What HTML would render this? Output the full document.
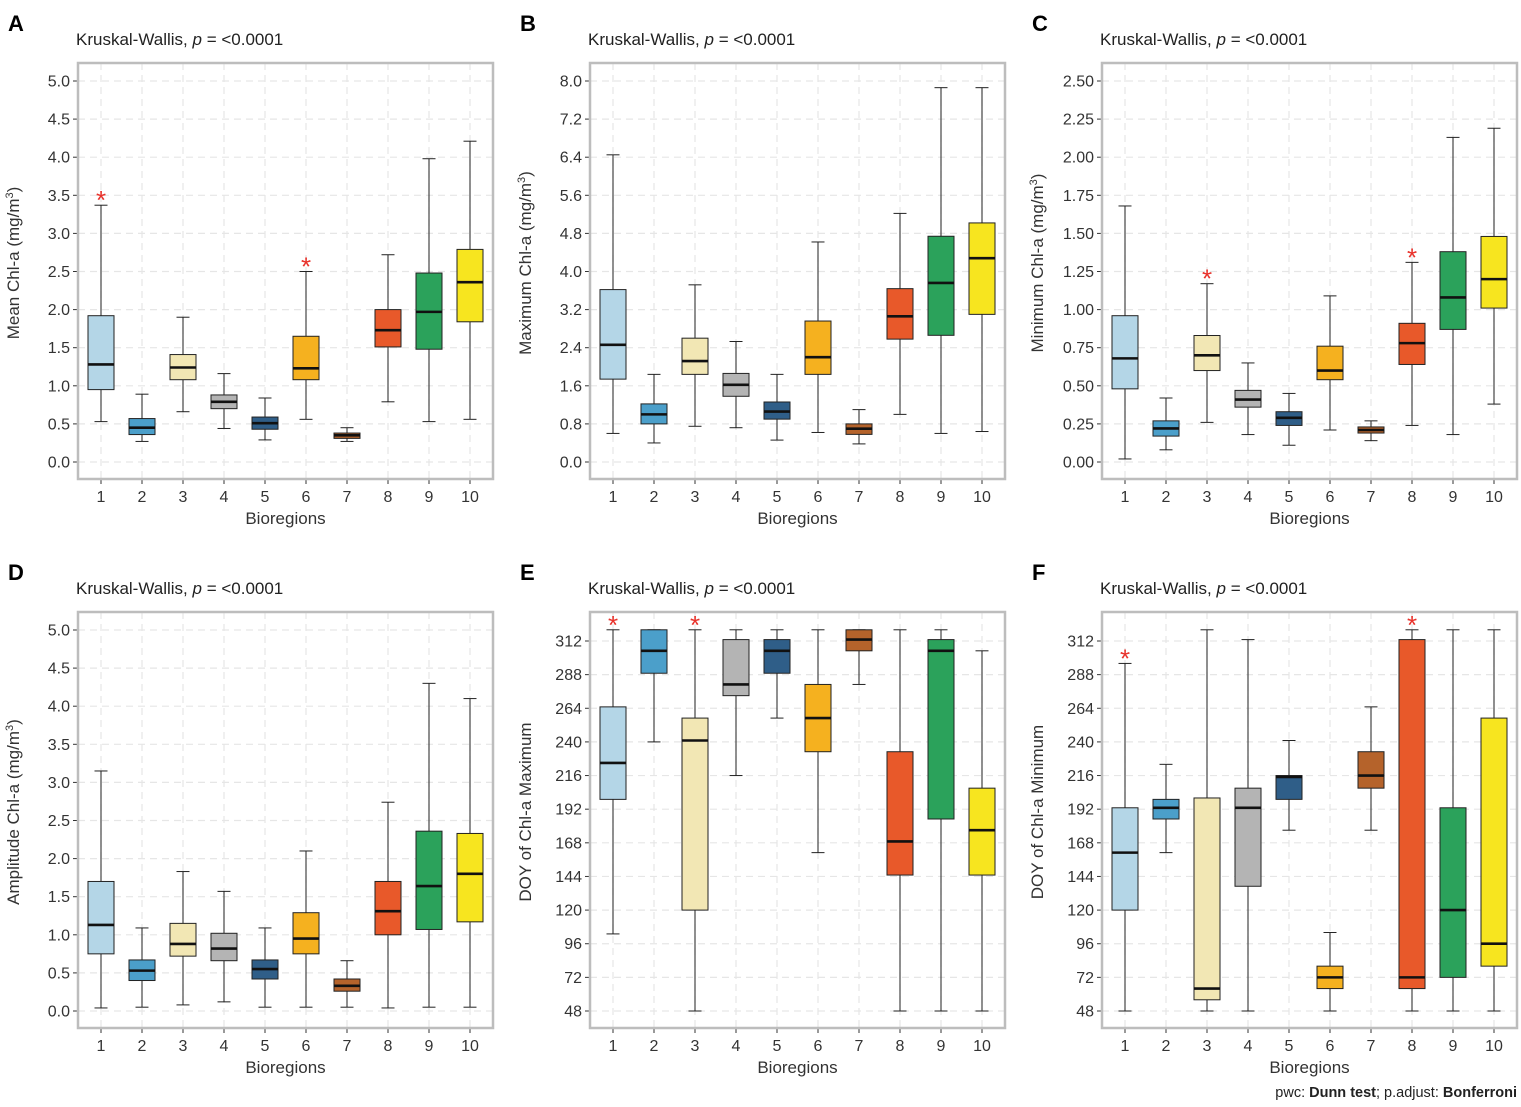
<!DOCTYPE html>
<html><head><meta charset="utf-8"><style>
body{margin:0;background:#fff;}
svg text{font-family:"Liberation Sans",Arial,sans-serif;}
</style></head><body>
<svg id="chart" width="1521" height="1102" xmlns="http://www.w3.org/2000/svg"></svg>
<script>
const categories = ["1","2","3","4","5","6","7","8","9","10"];
const colors = ["#b4d6e7","#4b9fca","#f2e7b4","#b4b4b4","#2f5e88","#f5b11f","#b5632b","#e8592a","#2ba25b","#f7e51f"];
// [whiskerLow, q1, median, q3, whiskerHigh]
const meanChl = [[0.53,0.95,1.28,1.92,3.37],[0.27,0.36,0.45,0.57,0.89],[0.66,1.08,1.24,1.41,1.90],[0.44,0.70,0.79,0.88,1.16],[0.29,0.43,0.51,0.59,0.84],[0.56,1.08,1.23,1.65,2.50],[0.27,0.31,0.35,0.38,0.45],[0.79,1.51,1.73,2.00,2.72],[0.53,1.48,1.97,2.48,3.98],[0.56,1.84,2.36,2.79,4.21]];
const maxChl = [[0.6,1.74,2.46,3.62,6.45],[0.4,0.8,1.0,1.22,1.84],[0.75,1.84,2.12,2.6,3.72],[0.72,1.38,1.62,1.86,2.53],[0.46,0.9,1.06,1.26,1.84],[0.62,1.84,2.2,2.96,4.62],[0.38,0.58,0.7,0.8,1.1],[1.0,2.58,3.06,3.64,5.22],[0.6,2.66,3.76,4.74,7.86],[0.64,3.1,4.28,5.02,7.86]];
const minChl = [[0.02,0.48,0.68,0.96,1.68],[0.08,0.17,0.22,0.27,0.42],[0.26,0.6,0.7,0.83,1.17],[0.18,0.36,0.41,0.47,0.65],[0.11,0.24,0.29,0.33,0.45],[0.21,0.54,0.6,0.76,1.09],[0.14,0.19,0.21,0.23,0.27],[0.24,0.64,0.78,0.91,1.31],[0.18,0.87,1.08,1.38,2.13],[0.38,1.01,1.2,1.48,2.19]];
const ampChl = [[0.04,0.75,1.13,1.70,3.15],[0.05,0.40,0.53,0.67,1.09],[0.08,0.72,0.88,1.15,1.83],[0.12,0.66,0.82,1.02,1.57],[0.05,0.42,0.55,0.67,1.09],[0.05,0.75,0.95,1.29,2.10],[0.05,0.26,0.33,0.42,0.66],[0.04,1.00,1.31,1.70,2.74],[0.05,1.07,1.64,2.36,4.30],[0.05,1.17,1.80,2.33,4.10]];
const doyMax = [[103,199,225,265,320],[240,289,305,320,320],[48,120,241,257,320],[216,273,281,313,320],[257,289,305,313,320],[161,233,257,281,320],[281,305,313,320,320],[48,145,169,233,320],[48,185,305,313,320],[48,145,177,207,305]];
const doyMin = [[48,120,161,193,296],[161,185,193,199,224],[48,56,64,200,320],[48,137,193,207,313],[177,199,215,216,241],[48,64,72,80,104],[177,207,216,233,265],[48,64,72,313,320],[48,72,120,193,320],[48,80,96,257,320]];
const starsA = [1,6], starsB = [], starsC = [3,8], starsD = [], starsE = [1,3], starsF = [1,8];
const ticksChl5 = [0,0.5,1,1.5,2,2.5,3,3.5,4,4.5,5];
const ticksChl8 = [0,0.8,1.6,2.4,3.2,4.0,4.8,5.6,6.4,7.2,8.0];
const ticksChl25 = [0,0.25,0.5,0.75,1,1.25,1.5,1.75,2,2.25,2.5];
const ticksDoy = [48,72,96,120,144,168,192,216,240,264,288,312];

const NS="http://www.w3.org/2000/svg";
const svg=document.getElementById('chart');
function mk(tag,attrs,parent){const e=document.createElementNS(NS,tag);for(const k in attrs)e.setAttribute(k,attrs[k]);(parent||svg).appendChild(e);return e;}

const panels=[
 {id:'a',letter:'A',L:78,T:63,data:meanChl,ticks:ticksChl5,dec:1,v0:0,v1:5,p0:399,p1:18,stars:starsA,yt:'Mean Chl-a (mg/m',sup:true},
 {id:'b',letter:'B',L:590,T:63,data:maxChl,ticks:ticksChl8,dec:1,v0:0,v1:8,p0:399,p1:18,stars:starsB,yt:'Maximum Chl-a (mg/m',sup:true},
 {id:'c',letter:'C',L:1102,T:63,data:minChl,ticks:ticksChl25,dec:2,v0:0,v1:2.5,p0:399,p1:18,stars:starsC,yt:'Minimum Chl-a (mg/m',sup:true},
 {id:'d',letter:'D',L:78,T:612,data:ampChl,ticks:ticksChl5,dec:1,v0:0,v1:5,p0:399,p1:18,stars:starsD,yt:'Amplitude Chl-a (mg/m',sup:true},
 {id:'e',letter:'E',L:590,T:612,data:doyMax,ticks:ticksDoy,dec:0,v0:48,v1:312,p0:399,p1:29,stars:starsE,yt:'DOY of Chl-a Maximum',sup:false},
 {id:'f',letter:'F',L:1102,T:612,data:doyMin,ticks:ticksDoy,dec:0,v0:48,v1:312,p0:399,p1:29,stars:starsF,yt:'DOY of Chl-a Minimum',sup:false}
];
const W=415,H=416;
panels.forEach(p=>{
  const g=mk('g',{});
  
  
  const y=v=>p.T+p.p0+(v-p.v0)*(p.p1-p.p0)/(p.v1-p.v0);
  const x=i=>p.L+23+i*41;
  const lt=mk('text',{x:p.L-70,y:p.T-32,'font-size':22,'font-weight':'bold',fill:'#000'},g);lt.textContent=p.letter;
  
  const tt=mk('text',{x:p.L-2,y:p.T-18,'font-size':17,fill:'#222'},g);
  tt.innerHTML='Kruskal-Wallis, <tspan font-style="italic">p</tspan> = &lt;0.0001';
  
  p.ticks.forEach(t=>{const l=mk('line',{x1:p.L,x2:p.L+W,y1:y(t),y2:y(t),stroke:'#e6e6e6','stroke-width':1.2,'stroke-dasharray':'7,5'},g);
    });
  categories.forEach((c,i)=>{const l=mk('line',{x1:x(i),x2:x(i),y1:p.T,y2:p.T+H,stroke:'#e6e6e6','stroke-width':1.2,'stroke-dasharray':'7,5'},g);
    });
  p.ticks.forEach(t=>{mk('line',{x1:p.L-5,x2:p.L,y1:y(t),y2:y(t),stroke:'#333','stroke-width':1},g);
    const tx=mk('text',{x:p.L-8,y:y(t)+5.5,'font-size':16,'text-anchor':'end',fill:'#333'},g);tx.textContent=t.toFixed(p.dec);
    });
  categories.forEach((c,i)=>{mk('line',{x1:x(i),x2:x(i),y1:p.T+H,y2:p.T+H+5,stroke:'#333','stroke-width':1},g);
    const tx=mk('text',{x:x(i),y:p.T+H+23,'font-size':16,'text-anchor':'middle',fill:'#333'},g);tx.textContent=c;
    });
  p.data.forEach((d,i)=>{
    const bg=mk('g',{},g);
    
    
    const cx=x(i),hw=13;
    mk('line',{x1:cx,x2:cx,y1:y(d[0]),y2:y(d[4]),stroke:'#222','stroke-width':1},bg);
    mk('line',{x1:cx-6.5,x2:cx+6.5,y1:y(d[0]),y2:y(d[0]),stroke:'#222','stroke-width':1},bg);
    mk('line',{x1:cx-6.5,x2:cx+6.5,y1:y(d[4]),y2:y(d[4]),stroke:'#222','stroke-width':1},bg);
    mk('rect',{x:cx-hw,y:y(d[3]),width:2*hw,height:Math.max(1,y(d[1])-y(d[3])),fill:colors[i],stroke:'#222','stroke-width':1},bg);
    mk('line',{x1:cx-hw,x2:cx+hw,y1:y(d[2]),y2:y(d[2]),stroke:'#111','stroke-width':2.6},bg);
  });
  p.stars.forEach(s=>{const i=s-1;const d=p.data[i];
    const st=mk('text',{x:x(i),y:y(d[4])+4,'font-size':26,'text-anchor':'middle',fill:'#e8312a'},g);
    st.textContent='*';});
  const br=mk('rect',{x:p.L,y:p.T,width:W,height:H,fill:'none',stroke:'#bdbdbd','stroke-width':2.5},g);
  
  const xt=mk('text',{x:p.L+W/2,y:p.T+H+45,'font-size':17,'text-anchor':'middle',fill:'#333'},g);xt.textContent='Bioregions';
  
  const ycx=p.L-59,ycy=p.T+H/2-8;
  const yt=mk('text',{x:ycx,y:ycy,'font-size':17,'text-anchor':'middle',fill:'#333',transform:`rotate(-90 ${ycx} ${ycy})`},g);
  yt.innerHTML=p.sup?p.yt+'<tspan font-size="11" dy="-6">3</tspan><tspan dy="6">)</tspan>':p.yt;
  
});
const ft=mk('text',{x:1517,y:1097,'font-size':14.5,'text-anchor':'end',fill:'#222'});
ft.innerHTML='pwc: <tspan font-weight="bold">Dunn test</tspan>; p.adjust: <tspan font-weight="bold">Bonferroni</tspan>';

</script>
</body></html>
